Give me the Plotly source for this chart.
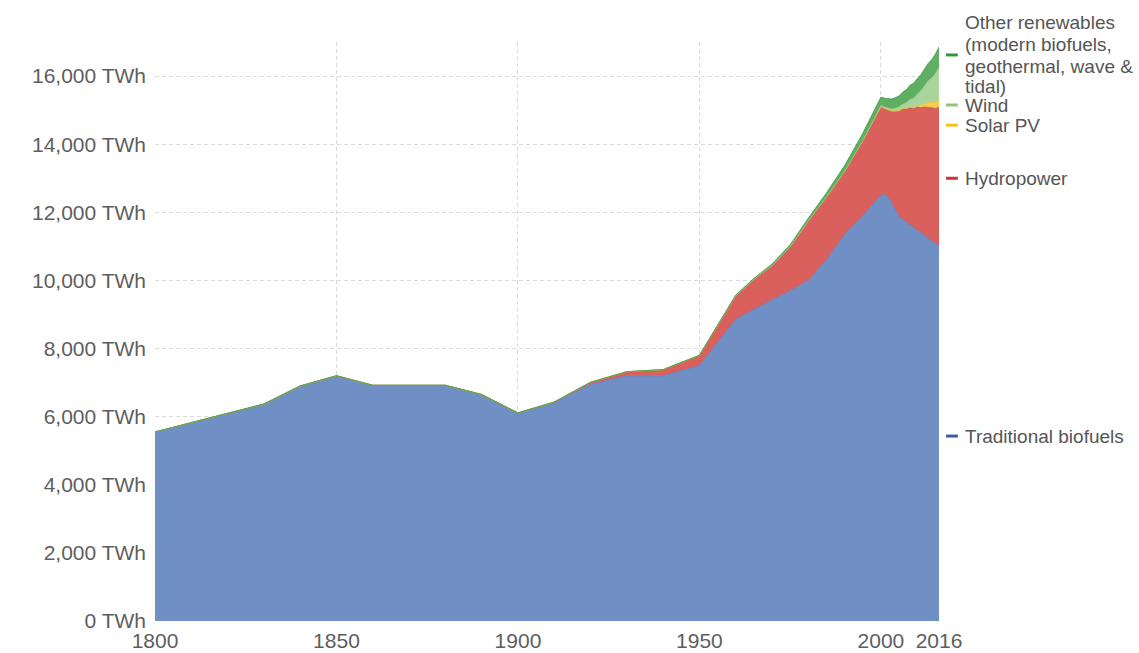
import plotly.graph_objects as go

years = [1800, 1810, 1820, 1830, 1840, 1850, 1860, 1870, 1880, 1890, 1900, 1910, 1920, 1930, 1940, 1950, 1960,
         1965, 1970, 1975, 1980, 1985, 1990, 1995,
         2000, 2001, 2002, 2003, 2004, 2005, 2006, 2007, 2008, 2009, 2010, 2011, 2012, 2013, 2014, 2015, 2016]

traditional_biofuels = [5550, 5820, 6100, 6370, 6900, 7200, 6920, 6920, 6920, 6650, 6100, 6400, 6950, 7200, 7200, 7500, 8850,
                        9150, 9420, 9700, 10000, 10600, 11350, 11900,
                        12500, 12520, 12450, 12250, 12050, 11880, 11790, 11710, 11630, 11550, 11470, 11390, 11310, 11230, 11150, 11070, 11000]

hydropower = [0, 0, 0, 0, 0, 0, 0, 0, 0, 0, 10, 30, 60, 120, 180, 300, 700,
              880, 1020, 1290, 1750, 1850, 1850, 2200,
              2600, 2530, 2560, 2720, 2920, 3100, 3250, 3330, 3450, 3500, 3620, 3680, 3780, 3860, 3920, 3980, 4080]

solar_pv = [0] * 17 + [0, 0, 0, 0, 0, 0, 0] + \
           [1, 1, 2, 2, 3, 4, 6, 8, 12, 20, 32, 64, 100, 135, 170, 190, 210]

wind = [0] * 17 + [0, 0, 0, 0, 0, 4, 8] + \
       [31, 38, 52, 63, 85, 104, 133, 171, 220, 276, 342, 437, 523, 635, 706, 831, 960]

other_renewables = [0] * 16 + [20] + [30, 40, 60, 80, 120, 170, 210] + \
                   [250, 260, 270, 290, 310, 330, 350, 380, 420, 440, 460, 470, 490, 510, 540, 570, 600]

series_names = ["Traditional biofuels", "Hydropower", "Solar PV", "Wind", "Other renewables"]
label_lines = [["Traditional biofuels"], ["Hydropower"], ["Solar PV"], ["Wind"],
               ["Other renewables", "(modern biofuels,", "geothermal, wave &", "tidal)"]]
series_values = [traditional_biofuels, hydropower, solar_pv, wind, other_renewables]
fill_colors = ["#6f8fc5", "#d9605d", "#f7cd4f", "#a9d49c", "#5fae62"]
line_colors = ["#5a7fbf", "#c9504c", "#f2c12e", "#8fc680", "#3d9a45"]
legend_colors = ["#3a5ca8", "#cc3333", "#f7c21c", "#93c47d", "#2f9a3a"]
label_values = [5430, 13000, 14560, 15150, 16620]
label_line_shifts = [[0], [0], [0], [0], [32, 10, -12, -32]]

x_ticks = [1800, 1850, 1900, 1950, 2000, 2016]
y_ticks = [0, 2000, 4000, 6000, 8000, 10000, 12000, 14000, 16000]
y_tick_text = ["0 TWh", "2,000 TWh", "4,000 TWh", "6,000 TWh", "8,000 TWh",
               "10,000 TWh", "12,000 TWh", "14,000 TWh", "16,000 TWh"]

FONT = "Liberation Sans, Arial, sans-serif"

fig = go.Figure()
for name, vals, fc, lc in zip(series_names, series_values, fill_colors, line_colors):
    fig.add_trace(go.Scatter(
        x=years, y=vals, name=name, stackgroup="one", mode="lines",
        line=dict(color=lc, width=0.8), fillcolor=fc, showlegend=False,
    ))

for lines, shifts, yv, col in zip(label_lines, label_line_shifts, label_values, legend_colors):
    fig.add_shape(type="line", xref="paper", yref="y", x0=1.009, x1=1.024, y0=yv, y1=yv,
                  line=dict(color=col, width=3))
    for txt, sh in zip(lines, shifts):
        fig.add_annotation(xref="paper", yref="y", x=1.031, y=yv, yshift=sh, text=txt, showarrow=False,
                           xanchor="left", yanchor="middle", align="left",
                           font=dict(family=FONT, size=19, color="#555555"))

fig.update_layout(
    width=1139, height=653,
    margin=dict(l=155, r=200, t=42, b=32, autoexpand=False),
    paper_bgcolor="white", plot_bgcolor="white",
    font=dict(family=FONT, color="#5e5e5e"),
    xaxis=dict(range=[1800, 2016], tickvals=x_ticks, ticktext=[str(t) for t in x_ticks],
               showgrid=True, gridcolor="#d9d9d9", griddash="4px,3px", gridwidth=1,
               zeroline=False, showline=False, ticks="", ticklabelstandoff=5, automargin=False,
               tickfont=dict(family=FONT, size=21, color="#5e5e5e")),
    yaxis=dict(range=[0, 17000], tickvals=y_ticks, ticktext=y_tick_text,
               showgrid=True, gridcolor="#d9d9d9", griddash="4px,3px", gridwidth=1,
               zeroline=False, showline=False, ticks="", ticklabelstandoff=8, automargin=False,
               tickfont=dict(family=FONT, size=21, color="#5e5e5e")),
)

fig.write_html("out.html", config={"displayModeBar": False},
               post_script="document.body.style.margin='0';document.body.style.overflow='hidden';")
